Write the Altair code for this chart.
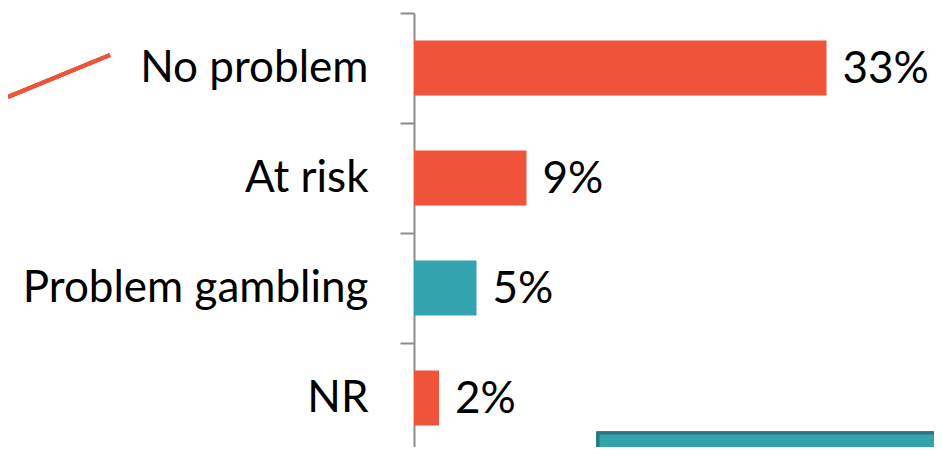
import altair as alt
import pandas as pd

categories = ["No problem", "At risk", "Problem gambling", "NR"]
values = [33, 9, 5, 2]
labels = ["33%", "9%", "5%", "2%"]
groups = ["other", "other", "highlight", "other"]

df = pd.DataFrame({"cat": categories, "val": values, "lab": labels, "grp": groups})

ORANGE = "#EF533A"
TEAL = "#33A3AE"
FONT = "Lato"

y_enc = alt.Y("cat:N", sort=categories,
              scale=alt.Scale(paddingInner=0, paddingOuter=0, range=[0, 440]),
              axis=alt.Axis(title=None, domainColor="#8C8C8C", domainWidth=2,
                            tickColor="#8C8C8C", tickWidth=2, tickSize=14,
                            tickBand="extent", labelPadding=32,
                            labelFont=FONT, labelFontSize=44, labelColor="#000000",
                            labelLimit=1000, grid=False))
x_enc = alt.X("val:Q", scale=alt.Scale(domain=[0, 40]), axis=None)

bars = alt.Chart(df).mark_bar(height=alt.RelativeBandSize(0.5)).encode(
    y=y_enc, x=x_enc,
    color=alt.Color("grp:N", scale=alt.Scale(domain=["other", "highlight"], range=[ORANGE, TEAL]), legend=None),
)

text = alt.Chart(df).mark_text(align="left", baseline="middle", dx=16, dy=2,
                               font=FONT, fontSize=44, color="#000000").encode(
    y=alt.Y("cat:N", sort=categories), x="val:Q", text="lab:N")

line = alt.Chart(df).mark_rule(color=ORANGE, strokeWidth=4).encode(
    x=alt.value(-406), x2=alt.value(-304), y=alt.value(84), y2=alt.value(42))

box = alt.Chart(df).mark_rect(fill=TEAL, stroke="#27787F", strokeWidth=3).encode(
    x=alt.value(184), x2=alt.value(560), y=alt.value(420), y2=alt.value(500))

chart = alt.layer(bars, text, line, box).properties(
    width=500, height=434,
    autosize=alt.AutoSizeParams(type="none"),
    padding={"left": 406, "top": 5, "right": 20, "bottom": 0},
).configure(background="white").configure_view(stroke=None)

chart.save("out.html", embed_options={"renderer": "svg", "actions": False})
